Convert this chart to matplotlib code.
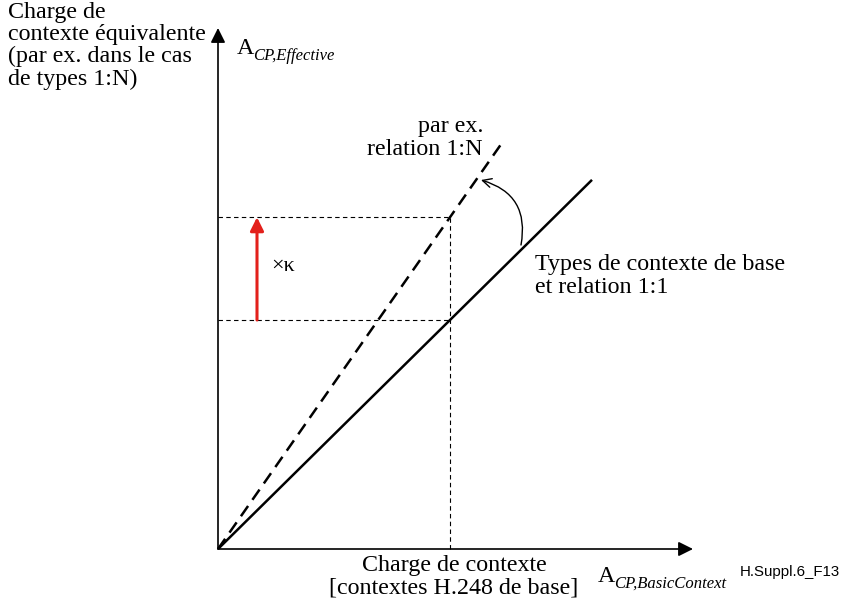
import matplotlib
matplotlib.use("Agg")
import matplotlib.pyplot as plt
from matplotlib.patches import FancyArrowPatch

# diagram values (pixel-like units, origin at the axis crossing)
x_axis_len = 475
y_axis_len = 521
base_slope = 0.987        # basic contexts, 1:1 relation
eff_slope = 1.43          # e.g. 1:N relation (x kappa)
base_x_end = 374
eff_x_end = 284
x_ref = 232               # reference context load
kappa_arrow_x = 39

serif = "Liberation Serif"
red = "#e3201b"
fs = 17.3
ls = 1.07

fig = plt.figure(figsize=(8.44, 6.02), dpi=100)
ax = fig.add_axes([0, 0, 1, 1])
ax.set_xlim(-218, 626)
ax.set_ylim(-53, 549)
ax.axis("off")

# axes with arrow heads
ax.annotate("", xy=(x_axis_len, 0), xytext=(0, 0),
            arrowprops=dict(arrowstyle="-|>", color="black", lw=1.2,
                            mutation_scale=22, shrinkA=0, shrinkB=0))
ax.annotate("", xy=(0, y_axis_len), xytext=(0, 0),
            arrowprops=dict(arrowstyle="-|>", color="black", lw=1.2,
                            mutation_scale=22, shrinkA=0, shrinkB=0))

# the two load lines
ax.plot([0, base_x_end], [0, base_slope * base_x_end], color="black", lw=1.8,
        solid_capstyle="butt")
ax.plot([0, eff_x_end], [0, eff_slope * eff_x_end], color="black", lw=1.8,
        dashes=(5, 3))

# helper dashed lines
y_base = base_slope * x_ref
y_eff = eff_slope * x_ref
ax.plot([x_ref, x_ref], [0, y_eff], color="black", lw=0.8, dashes=(4, 3))
ax.plot([0, x_ref], [y_base, y_base], color="black", lw=0.8, dashes=(4, 3))
ax.plot([0, x_ref], [y_eff, y_eff], color="black", lw=0.8, dashes=(4, 3))

# red x kappa arrow
ax.annotate("", xy=(kappa_arrow_x, y_eff), xytext=(kappa_arrow_x, y_base),
            arrowprops=dict(arrowstyle="-|>", color=red, lw=2.2,
                            mutation_scale=20, shrinkA=0, shrinkB=0))
ax.text(53, (y_base + y_eff) / 2 + 2, "×κ", fontsize=16, family=serif,
        ha="left", va="center")

# curved arrow from 1:1 line to 1:N line
arc = FancyArrowPatch((303, 304), (263, 369), connectionstyle="arc3,rad=0.45",
                      arrowstyle="->", mutation_scale=16, color="black", lw=1.0,
                      shrinkA=0, shrinkB=0)
ax.add_patch(arc)

# texts
ax.text(-210, 547, "Charge de\ncontexte équivalente\n(par ex. dans le cas\nde types 1:N)",
        fontsize=fs, family=serif, ha="left", va="top", linespacing=ls)
ax.text(19, 500, "A", fontsize=fs, family=serif, ha="left", va="center")
ax.text(35, 493, "CP,Effective", fontsize=12, family=serif, style="italic",
        ha="left", va="center")

ax.text(265, 411, "par ex.\nrelation 1:N", fontsize=fs, family=serif,
        ha="right", va="center", linespacing=ls)
ax.text(317, 273, "Types de contexte de base\net relation 1:1", fontsize=fs,
        family=serif, ha="left", va="center", linespacing=ls)

ax.text(236, -28, "Charge de contexte\n[contextes H.248 de base]", fontsize=fs,
        family=serif, ha="center", va="center", linespacing=ls)
ax.text(380, -28, "A", fontsize=fs, family=serif, ha="left", va="center")
ax.text(396, -35, "CP,BasicContext", fontsize=12, family=serif, style="italic",
        ha="left", va="center")

ax.text(622, -23, "H.Suppl.6_F13", fontsize=10.8, family="Liberation Sans",
        ha="right", va="center")

plt.savefig("out.png", dpi=100)
plt.close()
